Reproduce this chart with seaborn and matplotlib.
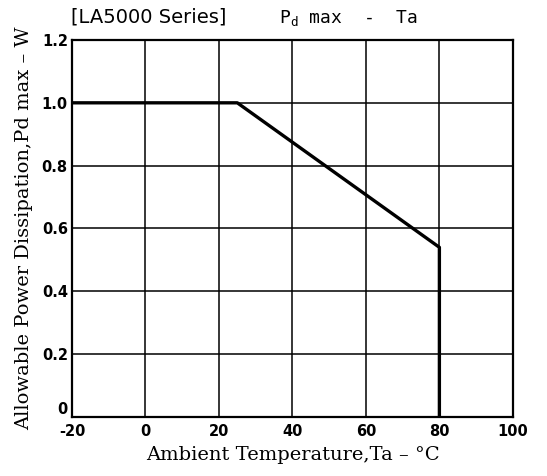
import matplotlib
matplotlib.use("Agg")
import matplotlib.pyplot as plt
import seaborn as sns
import pandas as pd

# derating curve
ta = [-20, 25, 80, 80]
pd_max = [1.0, 1.0, 0.54, 0.0]
x_ticks = [-20, 0, 20, 40, 60, 80, 100]
x_labels = ["-20", "0", "20", "40", "60", "80", "100"]
y_ticks = [0, 0.2, 0.4, 0.6, 0.8, 1.0, 1.2]
y_labels = ["0", "0.2", "0.4", "0.6", "0.8", "1.0", "1.2"]

sns.set_style("white")
plt.rcParams["font.family"] = ["DejaVu Sans"]
plt.rcParams["text.color"] = "black"
plt.rcParams["axes.labelcolor"] = "black"
plt.rcParams["xtick.color"] = "black"
plt.rcParams["ytick.color"] = "black"

df = pd.DataFrame({"Ta": ta, "Pd": pd_max})

fig = plt.figure(figsize=(5.47, 4.76), dpi=100)
ax = fig.add_axes([0.1316, 0.124, 0.806, 0.792])

ax.set_xlim(-20, 100)
ax.set_ylim(0, 1.2)
ax.set_xticks(x_ticks)
ax.set_xticklabels(x_labels, fontweight="bold", fontsize=10.5)
ax.set_yticks(y_ticks)
ax.set_yticklabels(y_labels, fontweight="bold", fontsize=10.5)
ax.tick_params(axis="x", length=0, pad=5)
ax.tick_params(axis="y", length=0, pad=3)
# the "0" sits just above the corner in the original, clear of "-20"
ax.get_yticklabels()[0].set_va("bottom")
ax.grid(True, color="black", linewidth=1.1)
ax.set_axisbelow(True)
for s in ax.spines.values():
    s.set_color("black")
    s.set_linewidth(1.6)

sns.lineplot(data=df, x="Ta", y="Pd", sort=False, color="black", linewidth=2.4,
             ax=ax, estimator=None)

ax.set_xlabel("Ambient Temperature,Ta \u2013 \u00b0C", family="DejaVu Serif",
              fontsize=14, labelpad=5)
ax.set_ylabel("Allowable Power Dissipation,Pd max \u2013 W", family="DejaVu Serif",
              fontsize=14, labelpad=6)

fig.text(0.13, 0.965, "[LA5000 Series]", fontsize=14, va="center", ha="left")
fig.text(0.51, 0.963, r"P$_\mathregular{d}$ max  -  Ta", family="DejaVu Sans Mono",
         fontsize=13, va="center", ha="left")

fig.savefig("out.png", dpi=100)
